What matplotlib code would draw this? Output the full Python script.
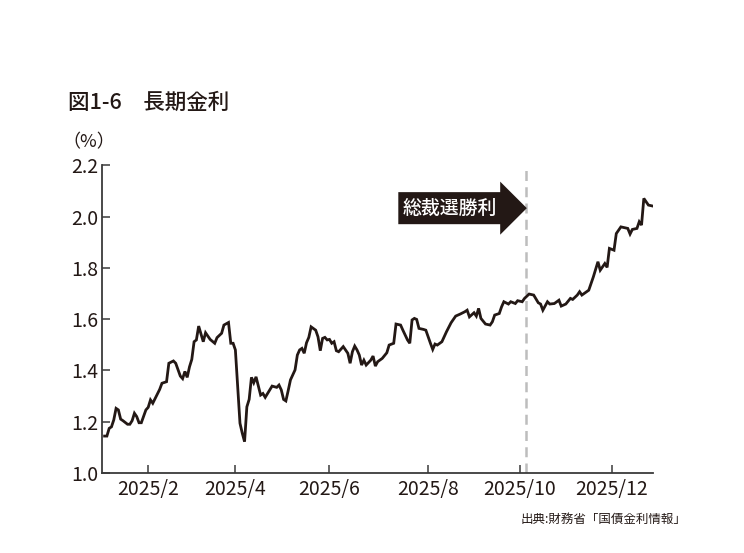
import matplotlib
matplotlib.use("Agg")
import matplotlib.pyplot as plt
from matplotlib.patches import FancyArrow

plt.rcParams['font.family'] = ['Noto Sans CJK JP', 'DejaVu Sans']

# trading-day index (0 = first trading day of 2025) and 10-year JGB yield (%)
day_index = [0, 1, 2, 3, 4, 5, 6, 7, 8, 10, 11, 12, 13, 14, 15, 16, 18, 19, 20, 21,
             23, 24, 25, 27, 28, 30, 31, 33, 34, 35, 36, 37, 38, 39, 40, 41, 43, 44, 46, 48,
             49, 51, 52, 54, 55, 56, 57, 59, 60, 61, 62, 63, 64, 65, 66, 68, 69, 70, 72, 73,
             75, 76, 77, 78, 79, 80, 81, 83, 84, 85, 86, 87, 88, 89, 90, 92, 93, 94, 95, 96,
             97, 98, 99, 100, 101, 102, 104, 105, 106, 107, 108, 109, 110, 111, 112, 113, 114, 116, 117, 118,
             119, 121, 123, 124, 126, 127, 129, 130, 132, 133, 134, 135, 136, 137, 139, 140, 142, 143, 144, 145,
             147, 149, 151, 153, 155, 157, 158, 159, 161, 162, 163, 164, 166, 168, 169, 170, 172, 173, 174, 176,
             177, 179, 180, 182, 183, 185, 187, 189, 190, 191, 193, 194, 196, 198, 199, 201, 203, 204, 206, 207,
             208, 211, 213, 215, 216, 218, 219, 220, 222, 223, 225, 228, 229, 230, 232, 233, 234, 235, 237, 239]
yield_pct = [1.144, 1.144, 1.174, 1.180, 1.207, 1.252, 1.246, 1.210, 1.204, 1.190, 1.190, 1.204, 1.233, 1.220, 1.196, 1.196, 1.246, 1.256, 1.285, 1.272,
             1.308, 1.326, 1.350, 1.356, 1.428, 1.437, 1.428, 1.378, 1.368, 1.396, 1.373, 1.414, 1.443, 1.512, 1.519, 1.573, 1.512, 1.547, 1.521, 1.506,
             1.528, 1.545, 1.577, 1.587, 1.506, 1.506, 1.480, 1.194, 1.155, 1.122, 1.258, 1.287, 1.373, 1.352, 1.375, 1.304, 1.310, 1.295, 1.324, 1.339,
             1.334, 1.343, 1.324, 1.287, 1.281, 1.321, 1.363, 1.402, 1.460, 1.480, 1.486, 1.467, 1.508, 1.529, 1.570, 1.557, 1.531, 1.477, 1.525, 1.529,
             1.519, 1.521, 1.506, 1.512, 1.477, 1.473, 1.493, 1.480, 1.467, 1.428, 1.473, 1.495, 1.480, 1.460, 1.421, 1.440, 1.421, 1.440, 1.456, 1.417,
             1.434, 1.447, 1.469, 1.499, 1.506, 1.581, 1.577, 1.557, 1.519, 1.506, 1.597, 1.603, 1.599, 1.564, 1.560, 1.557, 1.506, 1.482, 1.503, 1.499,
             1.512, 1.551, 1.586, 1.612, 1.620, 1.629, 1.635, 1.609, 1.625, 1.612, 1.642, 1.603, 1.581, 1.577, 1.590, 1.616, 1.622, 1.648, 1.668, 1.659,
             1.668, 1.661, 1.672, 1.668, 1.681, 1.698, 1.694, 1.664, 1.659, 1.635, 1.668, 1.659, 1.661, 1.674, 1.651, 1.659, 1.681, 1.677, 1.694, 1.707,
             1.694, 1.713, 1.765, 1.824, 1.791, 1.817, 1.802, 1.876, 1.869, 1.934, 1.960, 1.954, 1.932, 1.950, 1.954, 1.980, 1.967, 2.071, 2.045, 2.041]

tick_days = [19, 57, 98, 141, 181, 221]
tick_labels = ['2025/2', '2025/4', '2025/6', '2025/8', '2025/10', '2025/12']
y_ticks = [1.0, 1.2, 1.4, 1.6, 1.8, 2.0, 2.2]
election_day = 183.5

title = '図1-6\u3000長期金利'
unit = '（%）'
event_label = '総裁選勝利'
source = '出典:財務省「国債金利情報」'

ink = '#231815'
axis_col = '#3a3a3a'

fig = plt.figure(figsize=(7.44, 5.53), dpi=100)
ax = fig.add_axes([0.1375, 0.1447, 0.7402, 0.5563])

ax.plot(day_index, yield_pct, color=ink, lw=2.0, solid_joinstyle='miter', zorder=3)
ax.axvline(election_day, color='#bdbdbd', lw=1.8, dashes=(4, 2.5), zorder=1)

# arrow
ax.add_patch(FancyArrow(128, 2.033, election_day + 0.5 - 128, 0, width=0.125,
                        head_width=0.207, head_length=11.6, length_includes_head=True,
                        color=ink, lw=0, zorder=4))
ax.text(128 + 2, 2.033, event_label, color='white', fontsize=13.6, fontweight='medium',
        ha='left', va='center', zorder=5)

ax.set_xlim(-1, 239)
ax.set_ylim(1.0, 2.2)
ax.set_xticks(tick_days)
ax.set_xticklabels(tick_labels)
ax.set_yticks(y_ticks)
ax.set_yticklabels([f'{v:.1f}' for v in y_ticks])

for s in ['top', 'right']:
    ax.spines[s].set_visible(False)
for s in ['left', 'bottom']:
    ax.spines[s].set_color(axis_col)
    ax.spines[s].set_linewidth(1.3)
ax.tick_params(axis='both', direction='in', length=6, width=1.1, color=axis_col,
               labelsize=14, labelcolor='#231815')
ax.tick_params(axis='y', pad=3)
ax.tick_params(axis='x', pad=4)

fig.text(68 / 744, 1 - 103 / 553, title, fontsize=15.5, fontweight='medium', color=ink,
         ha='left', va='center')
fig.text(62 / 744, 1 - 142 / 553, unit, fontsize=13, color=ink, ha='left', va='center')
fig.text(686 / 744, 1 - 519 / 553, source, fontsize=9, color=ink, ha='right', va='center')

fig.savefig('out.png', dpi=100, facecolor='white')
